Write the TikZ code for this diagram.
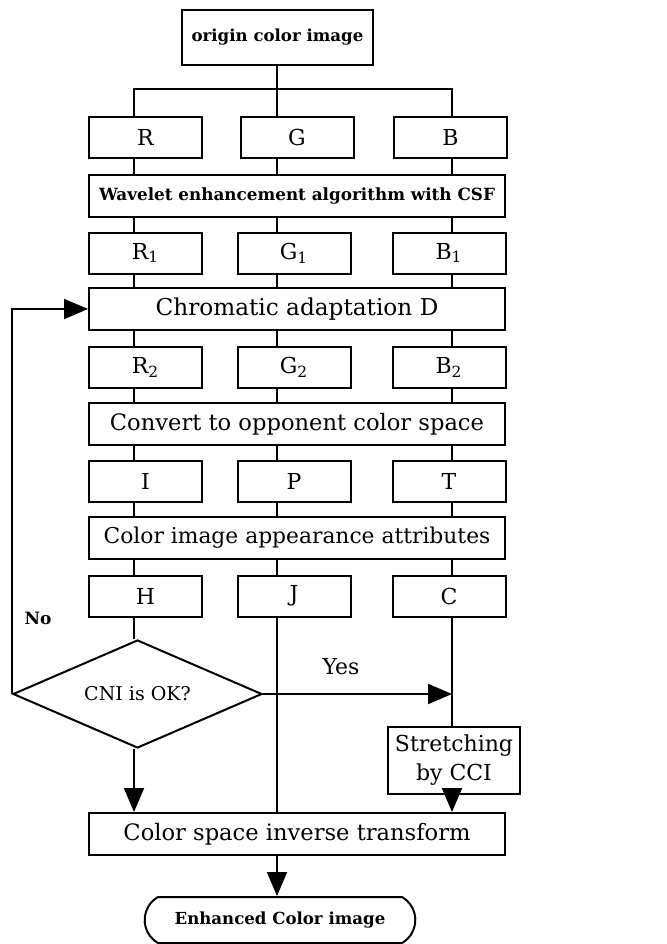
\documentclass[tikz,border=0pt]{standalone}
\usepackage{fontspec}
\setmainfont{DejaVu Serif}
\usepackage{tikz}
\usetikzlibrary{arrows.meta,positioning,shapes.geometric,shapes.misc,calc}
\tikzset{
  chanbox/.style={
    rectangle, draw=black, minimum width=56.5pt, minimum height=20.5pt,
    inner sep=1pt, font=\fontsize{11}{13}\selectfont
  },
  stagebox/.style={
    rectangle, draw=black, minimum width=208pt, minimum height=21pt,
    inner sep=1pt, font=\fontsize{11.3}{13}\selectfont
  },
  decbox/.style={
    diamond, draw=black, aspect=2.3, inner sep=0pt,
    minimum width=124.5pt, minimum height=54pt,
    font=\fontsize{9.5}{11}\selectfont
  },
  termbox/.style={
    rounded rectangle, rounded rectangle arc length=120, draw=black,
    minimum width=142pt, minimum height=23pt,
    font=\fontsize{8.3}{10}\selectfont\bfseries
  },
  flowarrow/.style={-{Triangle[length=12pt,width=10pt]}},
  tag/.style={font=\fontsize{#1}{12}\selectfont, inner sep=1pt},
  tag/.default=11,
}

\begin{document}
\begin{tikzpicture}[x=0.5pt, y=-0.5pt, line width=1pt]
  \useasboundingbox (0,0) rectangle (666,944);
  % columns of the three channels
  \coordinate (c1) at (134,0);
  \coordinate (c2) at (277,0);
  \coordinate (c3) at (452,0);
  \coordinate (split) at (277,89);

  \node[stagebox, minimum width=95.5pt, minimum height=27.5pt,
        font=\fontsize{8.3}{10}\selectfont\bfseries] (orig) at (277.5,37.5) {origin color image};

  \node[chanbox] (R) at (145.5,137.5) {R};
  \node[chanbox] (G) at (297,137.5) {G};
  \node[chanbox] (B) at (450.5,137.5) {B};
  \node[stagebox, font=\fontsize{8.4}{10}\selectfont\bfseries] (wav) at (297,195.5) {Wavelet enhancement algorithm with CSF};

  \node[chanbox] (R1) at (145.5,253) {R\textsubscript{1}};
  \node[chanbox] (G1) at (294,253) {G\textsubscript{1}};
  \node[chanbox] (B1) at (449,253) {B\textsubscript{1}};
  \node[stagebox, font=\fontsize{11.6}{13}\selectfont] (chrom) at (297,309) {Chromatic adaptation D};

  \node[chanbox] (R2) at (145.5,367.5) {R\textsubscript{2}};
  \node[chanbox] (G2) at (294,367.5) {G\textsubscript{2}};
  \node[chanbox] (B2) at (449,367.5) {B\textsubscript{2}};
  \node[stagebox] (conv) at (297,424) {Convert to opponent color space};

  \node[chanbox] (I) at (145.5,481.5) {I};
  \node[chanbox] (P) at (294,481.5) {P};
  \node[chanbox] (T) at (449,481.5) {T};
  \node[stagebox, font=\fontsize{10.9}{13}\selectfont] (attr) at (297,538) {Color image appearance attributes};

  \node[chanbox] (H) at (145.5,596) {H};
  \node[chanbox] (J) at (294,596) {J};
  \node[chanbox] (C) at (449,596) {C};

  \node[decbox] (cni) at (137.5,694) {CNI is OK?};
  \node[chanbox, minimum width=66pt, minimum height=33.5pt, align=center,
        font=\fontsize{11}{14.5}\selectfont] (str) at (454,760.5) {Stretching\\by CCI};
  \node[stagebox] (inv) at (297,834) {Color space inverse transform};
  \node[termbox] (out) at (280,920) {Enhanced Color image};

  \node[tag=8.5, font=\fontsize{8.5}{10}\selectfont\bfseries] (no) at (38,618) {No};
  \node[tag] (yes) at (341,667) {Yes};

  % fan out to R, G, B
  \draw (orig.south -| c2) -- (G.north -| c2);
  \draw (R.north -| c1) -- (split -| c1) -- (split -| c3) -- (B.north -| c3);

  \foreach \col/\a/\b/\c/\d/\e in {c1/R/R1/R2/I/H, c2/G/G1/G2/P/J, c3/B/B1/B2/T/C} {
    \draw (\a.south -| \col) -- (wav.north -| \col);
    \draw (wav.south -| \col) -- (\b.north -| \col);
    \draw (\b.south -| \col) -- (chrom.north -| \col);
    \draw (chrom.south -| \col) -- (\c.north -| \col);
    \draw (\c.south -| \col) -- (conv.north -| \col);
    \draw (conv.south -| \col) -- (\d.north -| \col);
    \draw (\d.south -| \col) -- (attr.north -| \col);
    \draw (attr.south -| \col) -- (\e.north -| \col);
  }

  \draw (H.south -| c1) -- (cni.north -| c1);
  \draw[flowarrow] (cni.west) |- (chrom.west);
  \draw[flowarrow] (cni.east) -- (cni.east -| c3);
  \draw[flowarrow] (cni.south -| c1) -- (inv.north -| c1);
  \draw (J.south -| c2) -- (inv.north -| c2);
  \draw (C.south -| c3) -- (str.north -| c3);
  \draw[flowarrow] (str.south -| c3) -- (inv.north -| c3);
  \draw[flowarrow] (inv.south -| c2) -- (out.north -| c2);
\end{tikzpicture}
\end{document}
